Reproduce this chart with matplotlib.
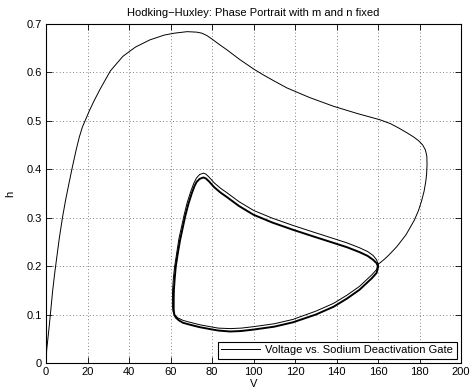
import matplotlib
matplotlib.use('Agg')
import matplotlib.pyplot as plt
import numpy as np

# trajectory from rest out to the first crossing at V~160
v_start = [0, 0.3, 1.5, 2.3, 3.2, 4.1, 5.0, 6.4, 7.9, 9.4, 11.0, 12.7, 14.5, 16, 17.5, 19.6, 21, 23,
           26, 31, 37, 43, 50, 57, 62, 68, 72.6, 75, 77.5, 80.5, 84, 87, 93.5, 100, 104.6, 110, 116,
           127, 138.5, 150, 161, 166, 170, 174, 177, 179.5, 181.5, 182.8, 183.5, 183.6, 183.4, 183,
           182.2, 181, 179.5, 177.5, 175.5, 173.5, 171, 169, 167, 165, 163, 161, 160]
h_start = [0, 0.027, 0.075, 0.11, 0.15, 0.183, 0.213, 0.258, 0.30, 0.336, 0.37, 0.405, 0.44, 0.466,
           0.487, 0.508, 0.522, 0.54, 0.565, 0.603, 0.633, 0.652, 0.667, 0.677, 0.681, 0.684, 0.683,
           0.681, 0.676, 0.667, 0.656, 0.647, 0.626, 0.607, 0.595, 0.582, 0.568, 0.548, 0.53, 0.515,
           0.502, 0.494, 0.485, 0.475, 0.467, 0.459, 0.45, 0.44, 0.427, 0.41, 0.39, 0.375, 0.355,
           0.335, 0.315, 0.295, 0.28, 0.265, 0.251, 0.24, 0.231, 0.222, 0.214, 0.207, 0.204]

# first loop, still a bit outside the settled cycle
v_first = [160, 159.3, 157, 154, 151, 145, 138.5, 130, 119, 110, 100, 94, 88.7, 83, 79, 74, 69.4,
           66, 63.5, 62, 61.2, 60.9, 60.9, 61, 61.4, 62, 63, 64, 66.5, 68, 69.8, 71.2, 72.5, 74,
           75.8, 77, 78.5, 81, 84, 87, 93, 100, 109, 119, 129, 138.5, 145, 151, 155, 157.6, 159.3,
           160]
h_first = [0.204, 0.193, 0.182, 0.17, 0.158, 0.14, 0.123, 0.107, 0.09, 0.081, 0.075, 0.072, 0.071,
           0.072, 0.075, 0.079, 0.084, 0.088, 0.093, 0.099, 0.106, 0.118, 0.135, 0.153, 0.177, 0.2,
           0.228, 0.256, 0.305, 0.331, 0.355, 0.371, 0.382, 0.389, 0.392, 0.39, 0.384, 0.372,
           0.361, 0.352, 0.333, 0.315, 0.299, 0.284, 0.27, 0.257, 0.248, 0.238, 0.23, 0.222,
           0.213, 0.204]

# settled limit cycle (traced several times)
v_cycle = [160, 159.3, 157, 154, 151, 145, 138.5, 130, 119, 110, 100, 94, 88.7, 83, 79, 74, 69.4,
           66, 64, 62.5, 61.8, 61.5, 61.5, 61.6, 62, 62.5, 63.5, 64.6, 67, 68.5, 70.2, 71.5, 72.6,
           74, 75.8, 77, 78.5, 81, 84, 87, 93, 100, 109, 119, 129, 138.5, 145, 151, 155, 157.6,
           159.3, 160]
h_cycle = [0.199, 0.186, 0.175, 0.163, 0.151, 0.133, 0.116, 0.1, 0.084, 0.075, 0.069, 0.066, 0.065,
           0.067, 0.07, 0.074, 0.079, 0.083, 0.088, 0.094, 0.1, 0.11, 0.13, 0.151, 0.175, 0.199,
           0.227, 0.254, 0.302, 0.327, 0.35, 0.365, 0.374, 0.38, 0.383, 0.381, 0.375, 0.363, 0.352,
           0.343, 0.324, 0.306, 0.29, 0.275, 0.261, 0.248, 0.239, 0.229, 0.221, 0.213, 0.206, 0.199]

plt.rcParams['font.family'] = ['Liberation Sans', 'DejaVu Sans']
plt.rcParams['font.size'] = 8

fig = plt.figure(figsize=(4.7, 3.92), dpi=100)
ax = fig.add_axes([0.098, 0.074, 0.883, 0.865])

line, = ax.plot(v_start, h_start, color='k', lw=0.7)
ax.plot(v_first, h_first, color='k', lw=0.7)
ax.plot(v_cycle, h_cycle, color='k', lw=1.4)

ax.set_xlim(0, 200)
ax.set_ylim(0, 0.7)
ax.set_xticks(np.arange(0, 201, 20))
ax.set_yticks(np.arange(0, 0.71, 0.1))
ax.set_yticklabels(['0', '0.1', '0.2', '0.3', '0.4', '0.5', '0.6', '0.7'])
ax.tick_params(direction='in', top=True, right=True, length=4, width=0.6, pad=3)
ax.grid(True, color='0.35', linestyle=(0, (1, 3)), linewidth=0.6)
for s in ax.spines.values():
    s.set_linewidth(0.8)

ax.set_title('Hodking\u2212Huxley: Phase Portrait with m and n fixed', fontsize=8, pad=6)
ax.set_xlabel('V', labelpad=1)
ax.set_ylabel('h', labelpad=8)

leg = ax.legend([line], ['Voltage vs. Sodium Deactivation Gate'], loc='lower right',
                fancybox=False, framealpha=1, edgecolor='k', borderpad=0.3,
                handlelength=3.5, handletextpad=0.5, borderaxespad=0.4)
leg.get_frame().set_linewidth(0.8)

fig.savefig('out.png', dpi=100)
